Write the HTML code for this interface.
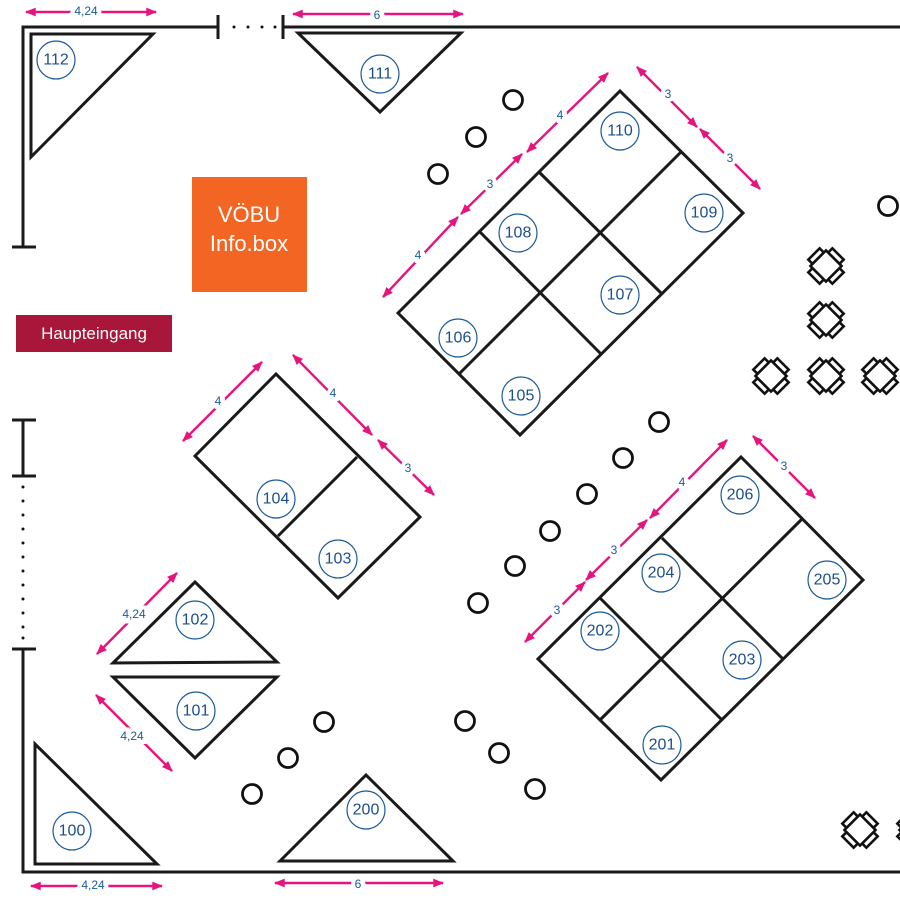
<!DOCTYPE html>
<html><head><meta charset="utf-8"><style>
html,body{margin:0;padding:0;background:#fff}
svg{display:block}
.w{stroke:#1a1a1a;stroke-width:3;fill:none}
.b{stroke:#1a1a1a;stroke-width:3;fill:none;stroke-linejoin:miter}
.c{stroke:#1a5a9a;stroke-width:1.2;fill:#fff}
.n{font-family:"Liberation Sans",sans-serif;font-size:16px;fill:#1a4f8a;text-anchor:middle;dominant-baseline:central}
.d{stroke:#e5157f;stroke-width:2.4;fill:none;marker-start:url(#a);marker-end:url(#a)}
.dl{font-family:"Liberation Sans",sans-serif;font-size:12px;fill:#1a5a9a;text-anchor:middle;dominant-baseline:central;stroke:#fff;stroke-width:8px;paint-order:stroke}
.p{stroke:#111;stroke-width:2.8;fill:none}
</style></head><body>
<svg width="900" height="900" viewBox="0 0 900 900" xmlns="http://www.w3.org/2000/svg">
<defs>
<marker id="a" viewBox="0 0 10 10" refX="9" refY="5" markerWidth="5" markerHeight="4.5" orient="auto-start-reverse" markerUnits="strokeWidth"><path d="M0,1 L10,5 L0,9 z" fill="#e5157f"/></marker>
<g id="t">
<g transform="rotate(45)" fill="#fff" stroke="#111" stroke-width="2.6">
<rect x="-8" y="-17" width="16" height="6"/>
<rect x="11" y="-8" width="6" height="16"/>
<rect x="-8" y="11" width="16" height="6"/>
<rect x="-17" y="-8" width="6" height="16"/>
<rect x="-11" y="-11" width="22" height="22"/>
</g>
</g>
</defs>

<!-- walls -->
<path class="w" d="M23,247 V27 H218 M283,27 H900"/>
<path class="w" d="M218,15 V39 M283,15 V39 M12,247 H36"/>
<g fill="#111"><circle cx="234" cy="27" r="1.5"/><circle cx="248" cy="27" r="1.5"/><circle cx="262" cy="27" r="1.5"/><circle cx="275" cy="27" r="1.5"/></g>
<path class="w" d="M12,420 H36 M23,420 V476 M12,476 H36"/>
<g fill="#111">
<circle cx="23" cy="487" r="1.5"/><circle cx="23" cy="501" r="1.5"/><circle cx="23" cy="515" r="1.5"/><circle cx="23" cy="529" r="1.5"/><circle cx="23" cy="543" r="1.5"/><circle cx="23" cy="557" r="1.5"/><circle cx="23" cy="571" r="1.5"/><circle cx="23" cy="585" r="1.5"/><circle cx="23" cy="599" r="1.5"/><circle cx="23" cy="613" r="1.5"/><circle cx="23" cy="627" r="1.5"/><circle cx="23" cy="638" r="1.5"/>
</g>
<path class="w" d="M12,649 H36 M23,649 V872 H900"/>

<!-- booths -->
<polygon class="b" points="31,34 153,34 31,157"/>
<polygon class="b" points="298,33 461,33 380,112"/>
<polygon class="b" points="398,313 620,91 743,213 520,435"/>
<path class="b" d="M480,232 L601,354 M539,172 L661,293 M459,374 L681,152"/>
<polygon class="b" points="195,456 276,374 420,517 338,598"/>
<path class="b" d="M357,457 L278,536"/>
<polygon class="b" points="113,663 195,582 277,662"/>
<polygon class="b" points="113,677 277,677 195,758"/>
<polygon class="b" points="35,744 35,864 157,864"/>
<polygon class="b" points="280,861 366,775 453,861"/>
<polygon class="b" points="538,659 741,457 863,580 661,780"/>
<path class="b" d="M600,598 L722,720 M662,538 L784,660 M600,720 L802,519"/>

<!-- pillars -->
<g class="p">
<circle cx="513" cy="100" r="9.5"/><circle cx="476" cy="137" r="9.5"/><circle cx="438" cy="174" r="9.5"/>
<circle cx="888" cy="206" r="9.5"/>
<circle cx="659" cy="422" r="9.5"/><circle cx="623" cy="458" r="9.5"/><circle cx="587" cy="494" r="9.5"/><circle cx="550" cy="531" r="9.5"/><circle cx="515" cy="566" r="9.5"/><circle cx="478" cy="603" r="9.5"/>
<circle cx="324" cy="722" r="9.5"/><circle cx="288" cy="758" r="9.5"/><circle cx="252" cy="794" r="9.5"/>
<circle cx="465" cy="721" r="9.5"/><circle cx="499" cy="753" r="9.5"/><circle cx="535" cy="789" r="9.5"/>
</g>

<!-- tables -->
<use href="#t" x="826" y="266"/>
<use href="#t" x="826" y="320"/>
<use href="#t" x="771" y="376"/>
<use href="#t" x="826" y="376"/>
<use href="#t" x="880" y="376"/>
<use href="#t" x="860" y="830"/>
<use href="#t" x="915" y="830"/>

<!-- boxes -->
<rect x="192" y="177" width="115" height="115" fill="#f26522"/>
<text x="249" y="222" font-family="Liberation Sans,sans-serif" font-size="22" fill="#fff" text-anchor="middle">VÖBU</text>
<text x="249" y="251" font-family="Liberation Sans,sans-serif" font-size="22" fill="#fff" text-anchor="middle">Info.box</text>
<rect x="16" y="315" width="156" height="37" fill="#a8163a"/>
<text x="94" y="339" font-family="Liberation Sans,sans-serif" font-size="17" fill="#fff" text-anchor="middle">Haupteingang</text>

<!-- dimensions -->
<line class="d" x1="26" y1="12" x2="156" y2="12"/><text class="dl" x="86" y="11">4,24</text>
<line class="d" x1="293" y1="14" x2="463" y2="14"/><text class="dl" x="377" y="15">6</text>
<line class="d" x1="31" y1="886" x2="162" y2="886"/><text class="dl" x="93" y="885">4,24</text>
<line class="d" x1="275" y1="883" x2="443" y2="883"/><text class="dl" x="358" y="884">6</text>
<line class="d" x1="97" y1="654" x2="177" y2="573"/><text class="dl" x="134" y="614">4,24</text>
<line class="d" x1="96" y1="695" x2="172" y2="771"/><text class="dl" x="132" y="736">4,24</text>
<line class="d" x1="183" y1="441" x2="262" y2="362"/><text class="dl" x="218" y="401">4</text>
<line class="d" x1="293" y1="355" x2="372" y2="435"/><text class="dl" x="333" y="393">4</text>
<line class="d" x1="378" y1="440" x2="434" y2="495"/><text class="dl" x="408" y="468">3</text>
<line class="d" x1="383" y1="297" x2="458" y2="217"/><text class="dl" x="418" y="255">4</text>
<line class="d" x1="461" y1="214" x2="522" y2="154"/><text class="dl" x="490" y="184">3</text>
<line class="d" x1="527" y1="152" x2="608" y2="73"/><text class="dl" x="560" y="115">4</text>
<line class="d" x1="637" y1="67" x2="697" y2="127"/><text class="dl" x="668" y="94">3</text>
<line class="d" x1="700" y1="129" x2="760" y2="189"/><text class="dl" x="730" y="158">3</text>
<line class="d" x1="525" y1="642" x2="585" y2="582"/><text class="dl" x="557" y="610">3</text>
<line class="d" x1="586" y1="580" x2="647" y2="520"/><text class="dl" x="614" y="550">3</text>
<line class="d" x1="650" y1="518" x2="727" y2="440"/><text class="dl" x="682" y="482">4</text>
<line class="d" x1="753" y1="436" x2="815" y2="498"/><text class="dl" x="784" y="466">3</text>

<!-- numbers -->
<g>
<circle class="c" cx="56" cy="60" r="19"/><text class="n" x="56" y="60">112</text>
<circle class="c" cx="380" cy="74" r="19"/><text class="n" x="380" y="74">111</text>
<circle class="c" cx="620" cy="131" r="19"/><text class="n" x="620" y="131">110</text>
<circle class="c" cx="704" cy="213" r="19"/><text class="n" x="704" y="213">109</text>
<circle class="c" cx="518" cy="233" r="19"/><text class="n" x="518" y="233">108</text>
<circle class="c" cx="620" cy="295" r="19"/><text class="n" x="620" y="295">107</text>
<circle class="c" cx="458" cy="338" r="19"/><text class="n" x="458" y="338">106</text>
<circle class="c" cx="521" cy="396" r="19"/><text class="n" x="521" y="396">105</text>
<circle class="c" cx="276" cy="499" r="19"/><text class="n" x="276" y="499">104</text>
<circle class="c" cx="338" cy="559" r="19"/><text class="n" x="338" y="559">103</text>
<circle class="c" cx="195" cy="620" r="19"/><text class="n" x="195" y="620">102</text>
<circle class="c" cx="196" cy="711" r="19"/><text class="n" x="196" y="711">101</text>
<circle class="c" cx="72" cy="831" r="19"/><text class="n" x="72" y="831">100</text>
<circle class="c" cx="366" cy="810" r="19"/><text class="n" x="366" y="810">200</text>
<circle class="c" cx="740" cy="495" r="19"/><text class="n" x="740" y="495">206</text>
<circle class="c" cx="827" cy="580" r="19"/><text class="n" x="827" y="580">205</text>
<circle class="c" cx="661" cy="573" r="19"/><text class="n" x="661" y="573">204</text>
<circle class="c" cx="742" cy="660" r="19"/><text class="n" x="742" y="660">203</text>
<circle class="c" cx="600" cy="631" r="19"/><text class="n" x="600" y="631">202</text>
<circle class="c" cx="662" cy="745" r="19"/><text class="n" x="662" y="745">201</text>
</g>
</svg>
</body></html>
